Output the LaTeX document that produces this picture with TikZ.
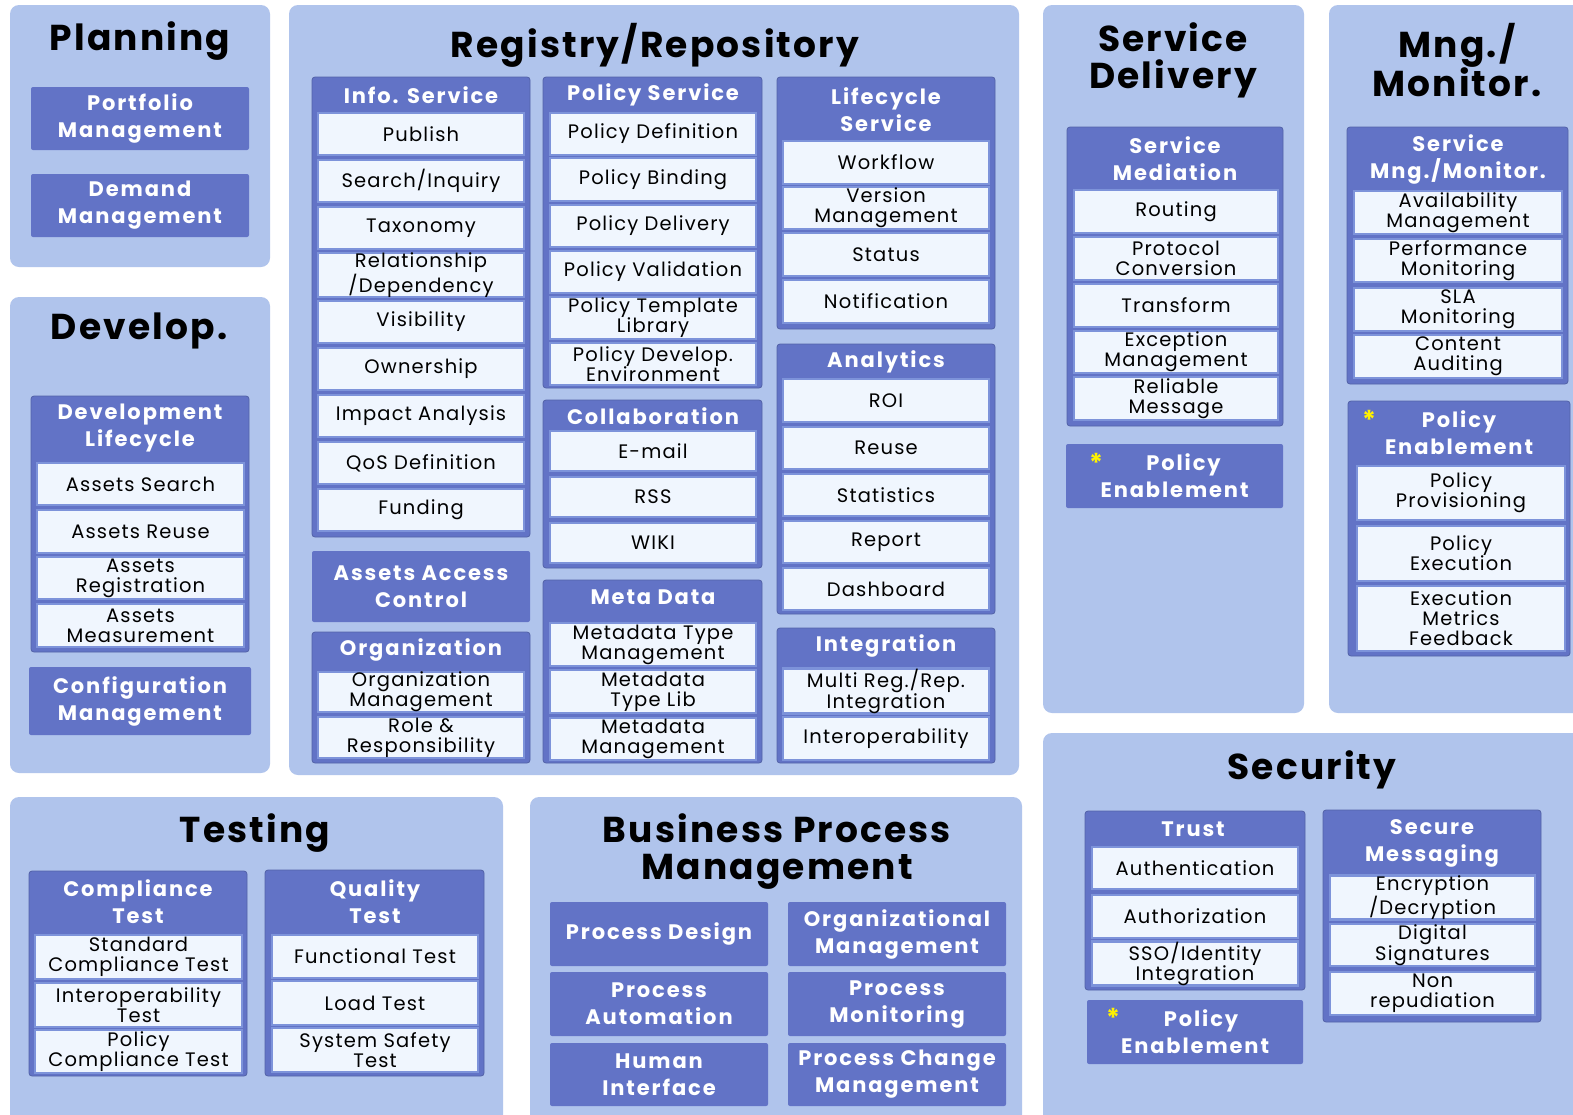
\documentclass[tikz,border=0pt]{standalone}
\usepackage{fontspec}
\setmainfont{Poppins}
\definecolor{panel}{HTML}{B0C4EC}
\definecolor{dark}{HTML}{6273C6}
\definecolor{itemfill}{HTML}{F0F6FE}
\definecolor{itemline}{HTML}{7D93DA}
\definecolor{staryellow}{HTML}{FFF200}
\newcommand\myitemfont{\fontsize{19.5}{20}\selectfont\addfontfeatures{LetterSpace=6}}
\newcommand\myhdrfont{\fontsize{21}{27}\selectfont\bfseries\addfontfeatures{LetterSpace=9}}
\newcommand\myttlfont{\fontsize{36}{37}\selectfont\bfseries\addfontfeatures{LetterSpace=6}}
\newcommand\bx[7][]{%
  \pgfmathsetmacro\bxw{#5-#3}\pgfmathsetmacro\bxh{#6-#4}%
  \node[#1, minimum width=\bxw pt, minimum height=\bxh pt] (#2) at ({(#3+#5)/2},{(#4+#6)/2}) {#7};}
\begin{document}
\begin{tikzpicture}[x=1pt,y=-1pt,
  panelbox/.style={fill=panel, rounded corners=9pt, inner sep=0pt},
  grp/.style={fill=dark, draw=dark!85!black, line width=0.8pt, rounded corners=3pt, inner sep=0pt},
  itm/.style={fill=itemfill, draw=itemline, line width=2.5pt, inner sep=0pt, align=center, font=\myitemfont},
  darkbox/.style={fill=dark, inner sep=0pt, align=center, text=white, font=\myhdrfont, rounded corners=2pt},
  hdr/.style={text=white, font=\myhdrfont, align=center, inner sep=0pt},
  ttl/.style={font=\myttlfont, align=center, inner sep=0pt},
  star/.style={text=staryellow, font=\fontsize{26}{26}\selectfont\bfseries, inner sep=0pt}]
\useasboundingbox[fill=white] (0,0) rectangle (1573,1114);

% ---------------- Planning
\bx[panelbox]{pPlan}{10}{5}{270}{267}{}
\node[ttl] (tPlan) at (140,41) {Planning};
\bx[darkbox]{portf}{31}{87}{249}{150}{Portfolio\\Management}
\bx[darkbox]{demand}{31}{174}{249}{237}{Demand\\Management}

% ---------------- Develop
\bx[panelbox]{pDev}{10}{297}{270}{773}{}
\node[ttl] (tDev) at (139,331) {Develop.};
\bx[grp]{gDL}{31}{396}{249}{652}{}
\node[hdr] (hDL) at (140,428) {Development\\Lifecycle};
\bx[itm]{aSearch}{37}{463}{244}{505}{Assets Search}
\bx[itm]{aReuse}{37}{510}{244}{553}{Assets Reuse}
\bx[itm]{aReg}{37}{557}{244}{599}{Assets\\Registration}
\bx[itm]{aMeas}{37}{604}{244}{647}{Assets\\Measurement}
\bx[darkbox]{config}{29}{667}{251}{735}{Configuration\\Management}

% ---------------- Registry / Repository
\bx[panelbox]{pReg}{289}{5}{1019}{775}{}
\node[ttl] (tReg) at (655,45) {Registry/Repository};
% Info service
\bx[grp]{gInfo}{312}{77}{530}{537}{}
\node[hdr] (hInfo) at (421,95) {Info. Service};
\bx[itm]{publish}{318}{113}{524}{155}{Publish}
\bx[itm]{search}{318}{160}{524}{202}{Search/Inquiry}
\bx[itm]{taxo}{318}{207}{524}{249}{Taxonomy}
\bx[itm]{relat}{318}{254}{524}{296}{Relationship\\/Dependency}
\bx[itm]{visib}{318}{301}{524}{343}{Visibility}
\bx[itm]{owner}{318}{348}{524}{390}{Ownership}
\bx[itm]{impact}{318}{395}{524}{437}{Impact Analysis}
\bx[itm]{qos}{318}{442}{524}{484}{QoS Definition}
\bx[itm]{fund}{318}{489}{524}{531}{Funding}
\bx[darkbox]{access}{312}{551}{530}{622}{Assets Access\\Control}
\bx[grp]{gOrg}{312}{632}{530}{763}{}
\node[hdr] (hOrg) at (421,650) {Organization};
\bx[itm]{orgm}{318}{672}{524}{712}{Organization\\Management}
\bx[itm]{role}{318}{717}{524}{758}{Role \&\\Responsibility}
% Policy service
\bx[grp]{gPol}{543}{77}{762}{388}{}
\node[hdr] (hPol) at (653,95) {Policy Service};
\bx[itm]{pdef}{550}{113}{756}{155}{Policy Definition}
\bx[itm]{pbind}{550}{158}{756}{201}{Policy Binding}
\bx[itm]{pdeliv}{550}{205}{756}{247}{Policy Delivery}
\bx[itm]{pvalid}{550}{251}{756}{293}{Policy Validation}
\bx[itm]{ptempl}{550}{297}{756}{339}{Policy Template\\Library}
\bx[itm]{pdevel}{550}{343}{756}{385}{Policy Develop.\\Environment}
% Collaboration
\bx[grp]{gCol}{543}{400}{762}{568}{}
\node[hdr] (hCol) at (653,416) {Collaboration};
\bx[itm]{email}{550}{431}{756}{471}{E-mail}
\bx[itm]{rss}{550}{477}{756}{517}{RSS}
\bx[itm]{wiki}{550}{523}{756}{563}{WIKI}
% Meta data
\bx[grp]{gMeta}{543}{580}{762}{763}{}
\node[hdr] (hMeta) at (653,597) {Meta Data};
\bx[itm]{mtype}{550}{623}{756}{666}{Metadata Type\\Management}
\bx[itm]{mlib}{550}{670}{756}{713}{Metadata\\Type Lib}
\bx[itm]{mman}{550}{718}{756}{760}{Metadata\\Management}
% Lifecycle
\bx[grp]{gLife}{777}{77}{995}{329}{}
\node[hdr] (hLife) at (886,110) {Lifecycle\\Service};
\bx[itm]{workflow}{783}{141}{989}{184}{Workflow}
\bx[itm]{version}{783}{187}{989}{229}{Version\\Management}
\bx[itm]{status}{783}{233}{989}{276}{Status}
\bx[itm]{notif}{783}{280}{989}{323}{Notification}
% Analytics
\bx[grp]{gAna}{777}{344}{995}{614}{}
\node[hdr] (hAna) at (886,362) {Analytics};
\bx[itm]{roi}{783}{379}{989}{422}{ROI}
\bx[itm]{reuse}{783}{427}{989}{469}{Reuse}
\bx[itm]{stats}{783}{474}{989}{516}{Statistics}
\bx[itm]{report}{783}{521}{989}{563}{Report}
\bx[itm]{dash}{783}{568}{989}{610}{Dashboard}
% Integration
\bx[grp]{gInt}{777}{628}{995}{763}{}
\node[hdr] (hInt) at (886,646) {Integration};
\bx[itm]{multi}{783}{670}{989}{712}{Multi Reg./Rep.\\Integration}
\bx[itm]{interop}{783}{717}{989}{760}{Interoperability}

% ---------------- Service Delivery
\bx[panelbox]{pSD}{1043}{5}{1304}{713}{}
\node[ttl] (tSD) at (1173,60) {Service\\Delivery};
\bx[grp]{gMed}{1067}{127}{1283}{426}{}
\node[hdr] (hMed) at (1175,159) {Service\\Mediation};
\bx[itm]{routing}{1074}{190}{1278}{233}{Routing}
\bx[itm]{proto}{1074}{237}{1278}{280}{Protocol\\Conversion}
\bx[itm]{transf}{1074}{284}{1278}{327}{Transform}
\bx[itm]{except}{1074}{331}{1278}{373}{Exception\\Management}
\bx[itm]{reliab}{1074}{377}{1278}{420}{Reliable\\Message}
\bx[darkbox]{sdpol}{1066}{444}{1283}{508}{\hspace*{18pt}Policy\\Enablement}
\node[star] (sdstar) at (1096,463) {*};

% ---------------- Mng./Monitor.
\bx[panelbox]{pMM}{1329}{5}{1590}{713}{}
\node[ttl] (tMM) at (1457,60) {Mng./\\Monitor.};
\bx[grp]{gSM}{1347}{127}{1568}{384}{}
\node[hdr] (hSM) at (1458,159) {Service\\Mng./Monitor.};
\bx[itm]{avail}{1354}{191}{1562}{234}{Availability\\Management}
\bx[itm]{perf}{1354}{239}{1562}{282}{Performance\\Monitoring}
\bx[itm]{sla}{1354}{288}{1562}{331}{SLA\\Monitoring}
\bx[itm]{content}{1354}{335}{1562}{378}{Content\\Auditing}
\bx[grp]{gPE}{1348}{401}{1570}{656}{}
\node[hdr] (hPE) at (1459,433) {Policy\\Enablement};
\node[star] (mmstar) at (1369,420) {*};
\bx[itm]{prov}{1357}{466}{1565}{520}{Policy\\Provisioning}
\bx[itm]{pexec}{1357}{526}{1565}{581}{Policy\\Execution}
\bx[itm]{emf}{1357}{586}{1565}{651}{Execution\\Metrics\\Feedback}

% ---------------- Security
\bx[panelbox]{pSec}{1043}{733}{1590}{1130}{}
\node[ttl] (tSec) at (1312,770) {Security};
\bx[grp]{gTrust}{1085}{811}{1305}{990}{}
\node[hdr] (hTrust) at (1193,829) {Trust};
\bx[itm]{authn}{1092}{847}{1298}{889}{Authentication}
\bx[itm]{authz}{1092}{895}{1298}{938}{Authorization}
\bx[itm]{sso}{1092}{942}{1298}{985}{SSO/Identity\\Integration}
\bx[darkbox]{secpol}{1087}{1000}{1303}{1064}{\hspace*{12pt}Policy\\Enablement}
\node[star] (secstar) at (1113,1018) {*};
\bx[grp]{gSecM}{1323}{810}{1541}{1022}{}
\node[hdr] (hSecM) at (1432,843) {Secure\\Messaging};
\bx[itm]{encr}{1330}{877}{1535}{918}{Encryption\\/Decryption}
\bx[itm]{digsig}{1330}{924}{1535}{966}{Digital\\Signatures}
\bx[itm]{nonrep}{1330}{972}{1535}{1015}{Non\\repudiation}

% ---------------- Testing
\bx[panelbox]{pTest}{10}{797}{503}{1130}{}
\node[ttl] (tTest) at (255,833) {Testing};
\bx[grp]{gComp}{29}{871}{247}{1076}{}
\node[hdr] (hComp) at (138,902) {Compliance\\Test};
\bx[itm]{stdc}{35}{935}{242}{979}{Standard\\Compliance Test}
\bx[itm]{intt}{35}{983}{242}{1027}{Interoperability\\Test}
\bx[itm]{polc}{35}{1030}{242}{1073}{Policy\\Compliance Test}
\bx[grp]{gQual}{265}{870}{484}{1076}{}
\node[hdr] (hQual) at (375,902) {Quality\\Test};
\bx[itm]{func}{272}{935}{478}{978}{Functional Test}
\bx[itm]{load}{272}{981}{478}{1025}{Load Test}
\bx[itm]{safety}{272}{1028}{478}{1072}{System Safety\\Test}

% ---------------- Business Process Management
\bx[panelbox]{pBPM}{530}{797}{1022}{1130}{}
\node[ttl] (tBPM) at (777,852) {Business Process\\Management};
\bx[darkbox]{pdesign}{550}{902}{768}{966}{Process Design}
\bx[darkbox]{orgman}{788}{902}{1006}{966}{Organizational\\Management}
\bx[darkbox]{pauto}{550}{972}{768}{1036}{Process\\Automation}
\bx[darkbox]{pmon}{788}{972}{1006}{1036}{Process\\Monitoring}
\bx[darkbox]{human}{550}{1043}{768}{1106}{Human\\Interface}
\bx[darkbox]{pchange}{788}{1043}{1006}{1106}{Process Change\\Management}
\end{tikzpicture}
\end{document}
